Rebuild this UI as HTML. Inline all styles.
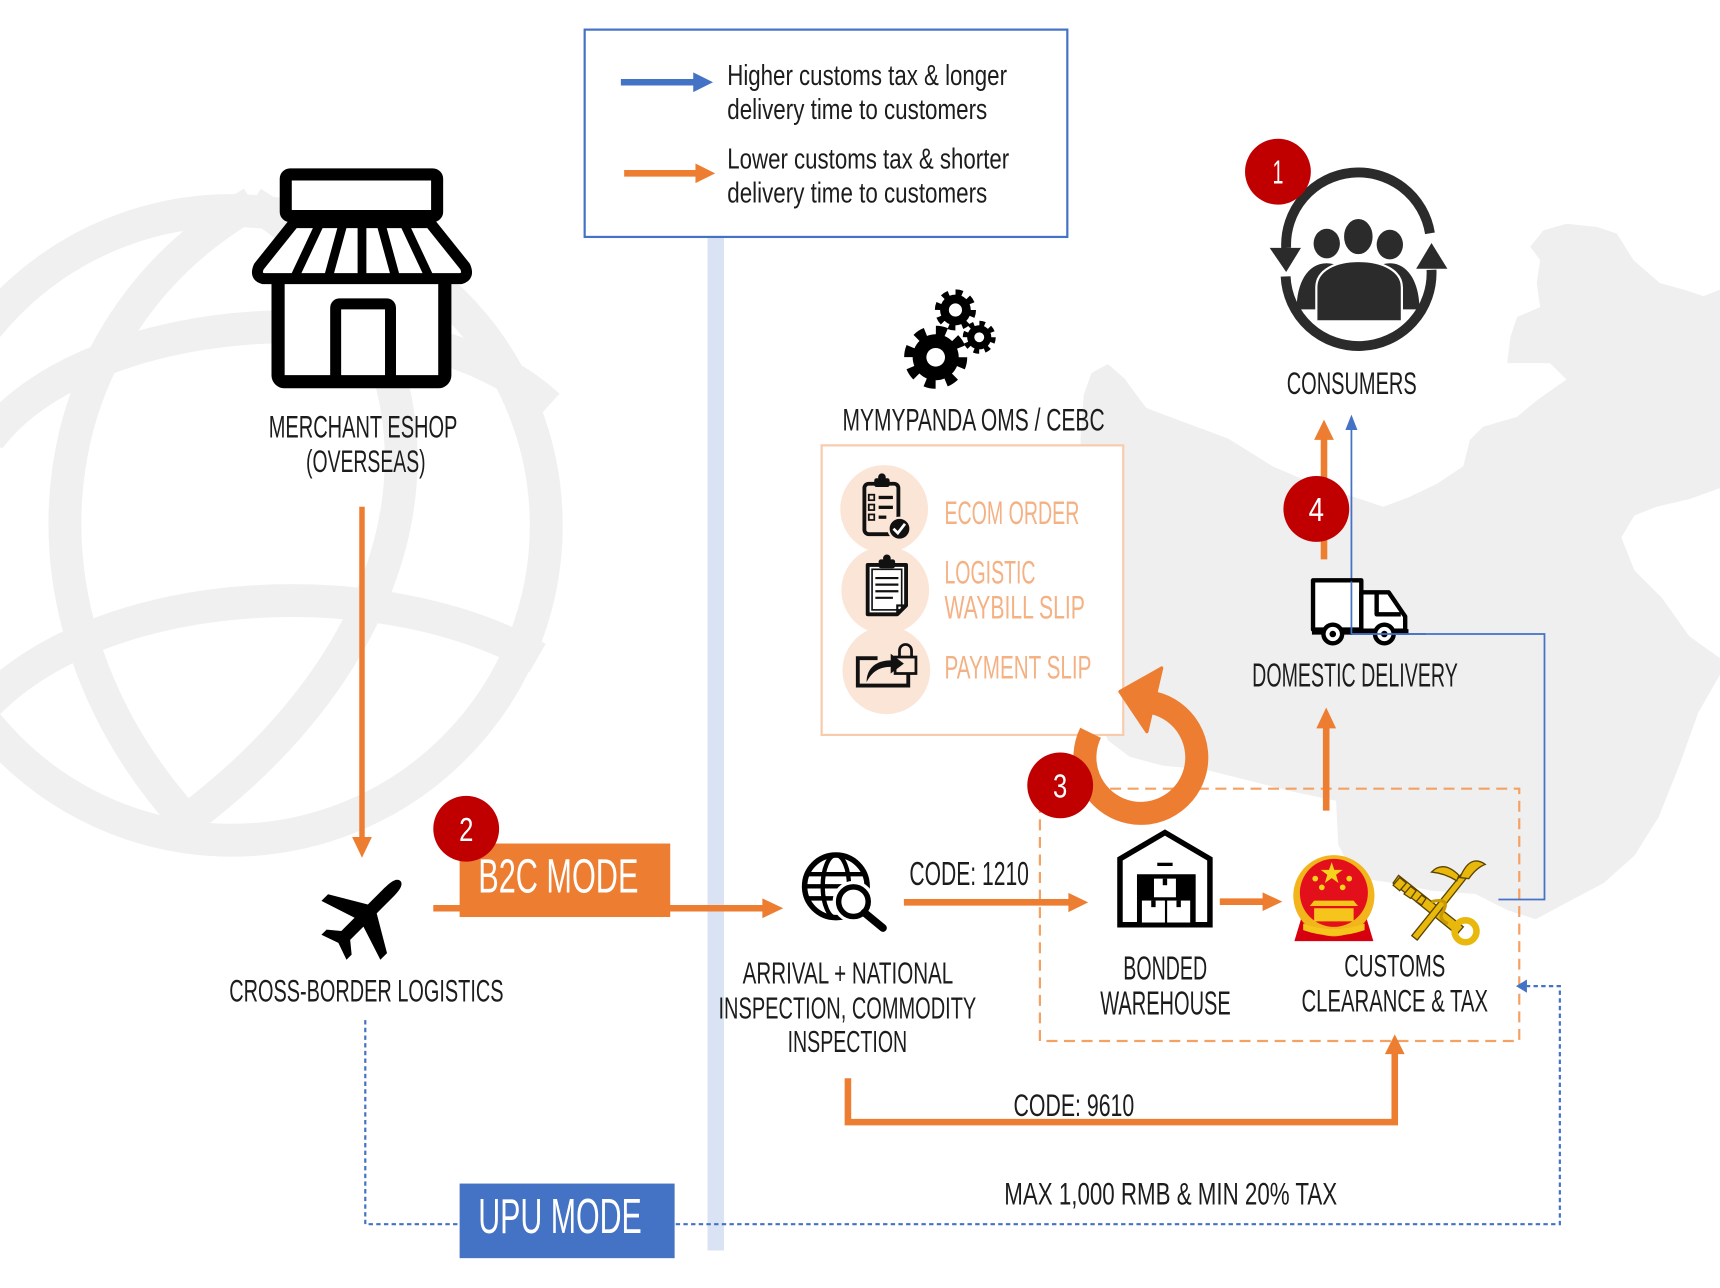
<!DOCTYPE html>
<html><head><meta charset="utf-8"><style>
html,body{margin:0;padding:0;background:#fff;width:1720px;height:1288px;overflow:hidden}
svg{display:block}
text{font-family:"Liberation Sans Narrow","Liberation Sans",sans-serif;fill:#1c1c1c}
.o{fill:#f4b183}
.w{fill:#fff}
</style></head><body>
<svg width="1720" height="1288" viewBox="0 0 1568 1174.2" preserveAspectRatio="none" xmlns="http://www.w3.org/2000/svg">
<rect width="1568" height="1175" fill="#fff"/>
<!-- globe watermark -->
<g fill="none" stroke="#f0f0f0" stroke-width="30">
<circle cx="211" cy="479" r="287"/>
<path d="M230,185 C30,300 0,560 170,748"/>
<path d="M230,185 C420,300 420,560 170,748"/>
<path d="M-10,400 C80,280 380,260 500,370"/>
<path d="M-10,640 C100,530 350,520 490,600"/>
</g>
<!-- China map watermark -->
<path fill="#efefef" d="M995,340 L1010,332 L1025,345 L1045,372 L1080,385 L1120,400 L1160,425 L1190,438 L1225,450 L1261,462 L1285,453 L1310,441 L1334,425 L1340,401 L1352,389 L1383,380 L1401,365 L1428,346 L1413,331 L1374,331 L1377,307 L1383,289 L1404,280 L1401,258 L1404,237 L1395,225 L1407,210 L1428,204 L1456,207 L1474,213 L1489,237 L1513,258 L1535,264 L1553,270 L1568,264 L1568,445 L1540,455 L1510,462 L1490,470 L1478,490 L1490,520 L1515,545 L1540,580 L1568,600 L1568,615 L1548,650 L1532,695 L1512,745 L1490,780 L1462,805 L1430,822 L1400,838 L1375,830 L1345,815 L1305,812 L1270,805 L1235,800 L1220,770 L1218,730 L1180,722 L1140,712 L1100,702 L1060,698 L1030,690 L1010,675 L995,640 L988,560 L988,470 L985,400 L988,360 Z"/>
<!-- vertical bar -->
<rect x="645" y="216" width="15" height="924" fill="#dae3f3"/>
<!-- legend -->
<rect x="533" y="27" width="440" height="189" fill="#fff" stroke="#4472c4" stroke-width="2"/>
<line x1="566" y1="75" x2="634" y2="75" stroke="#4472c4" stroke-width="6"/>
<polygon points="632,66 650,75 632,84" fill="#4472c4"/>
<line x1="569" y1="158" x2="636" y2="158" stroke="#ed7d31" stroke-width="6"/>
<polygon points="634,149 652,158 634,167" fill="#ed7d31"/>
<text x="663" y="77.5" font-size="26.5" textLength="255" lengthAdjust="spacingAndGlyphs">Higher customs tax &amp; longer</text>
<text x="663" y="108.5" font-size="26.5" textLength="237" lengthAdjust="spacingAndGlyphs">delivery time to customers</text>
<text x="663" y="153.5" font-size="26.5" textLength="257" lengthAdjust="spacingAndGlyphs">Lower customs tax &amp; shorter</text>
<text x="663" y="184.6" font-size="26.5" textLength="237" lengthAdjust="spacingAndGlyphs">delivery time to customers</text>
<!-- OMS box -->
<rect x="749" y="406" width="275" height="264" fill="#fff" stroke="#f8cbad" stroke-width="2"/>
<circle cx="806" cy="464" r="40" fill="#fbe5d6"/>
<circle cx="807" cy="538" r="40" fill="#fbe5d6"/>
<circle cx="808" cy="611" r="40" fill="#fbe5d6"/>
<!-- clipboard 1 -->
<g fill="none" stroke="#111" stroke-width="3.5">
<rect x="788" y="441" width="31" height="46" rx="4"/>
</g>
<rect x="797" y="436" width="14" height="8" rx="2" fill="#111"/>
<circle cx="804" cy="435" r="3.5" fill="#111"/>
<g stroke="#111" stroke-width="1.6" fill="none"><rect x="792" y="451" width="5" height="5"/><rect x="792" y="460" width="5" height="5"/><rect x="792" y="469" width="5" height="5"/></g>
<g stroke="#111" stroke-width="3"><line x1="801" y1="453.5" x2="814" y2="453.5"/><line x1="801" y1="462.5" x2="814" y2="462.5"/><line x1="801" y1="471.5" x2="808" y2="471.5"/></g>
<circle cx="820" cy="482" r="10" fill="#111" stroke="#fbe5d6" stroke-width="2"/>
<path d="M814.5,482 L818.5,486 L825,477.5" fill="none" stroke="#fff" stroke-width="2.5"/>
<!-- clipboard 2 -->
<path d="M791,515 L826,515 L826,552 L818,560 L791,560 Z" fill="#fff" stroke="#111" stroke-width="3.5" stroke-linejoin="round"/>
<rect x="795" y="519" width="27" height="37" fill="none" stroke="#111" stroke-width="1.5"/>
<rect x="801" y="510" width="15" height="8" rx="2" fill="#111"/>
<circle cx="808.5" cy="509" r="3.5" fill="#111"/>
<g stroke="#111" stroke-width="2"><line x1="798" y1="527" x2="819" y2="527"/><line x1="798" y1="533" x2="819" y2="533"/><line x1="798" y1="539" x2="819" y2="539"/><line x1="798" y1="545" x2="814" y2="545"/></g>
<path d="M818,560 L818,552 L826,552" fill="none" stroke="#111" stroke-width="2"/>
<!-- payment -->
<path d="M800,600 L782,600 L782,625 L828,625 L828,614" fill="none" stroke="#111" stroke-width="3.5"/>
<rect x="816" y="599" width="19" height="15" fill="#fbe5d6" stroke="#111" stroke-width="2.5"/>
<path d="M820,599 L820,593 A5.5,5.5 0 0 1 831,593 L831,599" fill="none" stroke="#111" stroke-width="2.5"/>
<path d="M790,622 C790,608 800,602 812,602 L812,596 L824,605 L812,614 L812,608 C802,608 795,612 790,622 Z" fill="#111"/>
<!-- dashed box -->
<rect x="948" y="719" width="437" height="230" fill="none" stroke="#f4a264" stroke-width="2" stroke-dasharray="10 6"/>
<!-- blue dashed UPU path -->
<path d="M333,930 L333,1116 L1422,1116 L1422,899 L1392,899" fill="none" stroke="#4472c4" stroke-width="2" stroke-dasharray="4 3"/>
<polygon points="1392,893 1392,905 1382,899" fill="#4472c4"/>
<!-- blue thin path -->
<path d="M1366,820 L1408,820 L1408,578 L1232,578 L1232,390" fill="none" stroke="#4472c4" stroke-width="1.6"/>
<polygon points="1226.5,392 1237.5,392 1232,378" fill="#4472c4"/>
<!-- orange arrows -->
<g stroke="#ed7d31" fill="none">
<line x1="330" y1="462" x2="330" y2="766" stroke-width="5"/>
<line x1="395" y1="828" x2="698" y2="828" stroke-width="6"/>
<line x1="824" y1="822.6" x2="976" y2="822.6" stroke-width="6"/>
<line x1="1112" y1="822" x2="1153" y2="822" stroke-width="6"/>
<path d="M773,983 L773,1023 L1271.5,1023 L1271.5,960" stroke-width="6"/>
<line x1="1209" y1="739" x2="1209" y2="662" stroke-width="6"/>
<line x1="1207" y1="510" x2="1207" y2="399" stroke-width="6"/>
</g>
<g fill="#ed7d31">
<polygon points="321,763 339,763 330,782"/>
<polygon points="695,819 714,828 695,837"/>
<polygon points="974,814 992,822.6 974,831.5"/>
<polygon points="1151,813.5 1169,822 1151,830.5"/>
<polygon points="1262.5,961 1280.5,961 1271.5,943"/>
<polygon points="1200,664 1218,664 1209,645"/>
<polygon points="1198,401 1216,401 1207,382.6"/>
</g>
<!-- circular arrow -->
<path d="M994.2,668.1 A51,51 0 1 0 1051.5,640.8" fill="none" stroke="#ed7d31" stroke-width="21"/>
<polygon points="1059,609 1045.5,667 1021,630.5" fill="#ed7d31" stroke="#ed7d31" stroke-width="3" stroke-linejoin="round"/>
<!-- store icon -->
<g fill="#fff" stroke="#000" stroke-linejoin="round">
<rect x="260.5" y="159" width="138" height="38" rx="4" stroke-width="11"/>
<rect x="253.5" y="252" width="152" height="96" rx="6" stroke-width="12"/>
<path d="M268,203 L392,203 L424,243 Q428,252 420,254 L240,254 Q232,252 236,243 Z" stroke-width="10"/>
</g>
<g stroke="#000" stroke-width="8">
<line x1="292" y1="203" x2="268" y2="254"/><line x1="313" y1="203" x2="299" y2="254"/><line x1="330" y1="203" x2="330" y2="254"/><line x1="347" y1="203" x2="361" y2="254"/><line x1="368" y1="203" x2="392" y2="254"/>
</g>
<path d="M306,348 L306,281 Q306,277 310,277 L352,277 Q356,277 356,281 L356,348" fill="none" stroke="#000" stroke-width="10"/>
<!-- plane -->
<path transform="translate(334,834) rotate(45) scale(0.95)" fill="#000" d="M0,-46 C5,-46 6,-38 6,-30 L6,-8 L40,12 L40,21 L6,10 L6,28 L17,37 L17,44 L0,38 L-17,44 L-17,37 L-6,28 L-6,10 L-40,21 L-40,12 L-6,-8 L-6,-30 C-6,-38 -5,-46 0,-46 Z"/>
<!-- search globe -->
<g fill="none" stroke="#000" stroke-width="5">
<circle cx="762" cy="808" r="28.5" fill="#fff"/>
<ellipse cx="762" cy="808" rx="12" ry="28.5" stroke-width="4"/>
<line x1="736" y1="797" x2="788" y2="797" stroke-width="4"/>
<line x1="736" y1="819" x2="788" y2="819" stroke-width="4"/>
<line x1="734" y1="808" x2="790" y2="808" stroke-width="4"/>
</g>
<circle cx="778" cy="822" r="19" fill="#fff"/>
<circle cx="778" cy="822" r="13.5" fill="#fff" stroke="#000" stroke-width="5"/>
<line x1="788" y1="832" x2="805" y2="846" stroke="#000" stroke-width="7" stroke-linecap="round"/>
<!-- warehouse -->
<path d="M1021,843 L1021,783 L1062,759 L1103,783 L1103,843 Z" fill="#fff" stroke="#000" stroke-width="5"/>
<rect x="1036.5" y="797" width="53.5" height="48" fill="#000"/>
<line x1="1055" y1="788" x2="1069" y2="788" stroke="#000" stroke-width="3"/>
<g fill="#fff"><rect x="1052" y="801" width="20" height="17"/><rect x="1041" y="821" width="21" height="20"/><rect x="1064" y="821" width="21" height="20"/></g>
<g fill="#000"><rect x="1060" y="801" width="4" height="6"/><rect x="1049.5" y="821" width="4" height="6"/><rect x="1072.5" y="821" width="4" height="6"/></g>
<!-- national emblem -->
<path d="M1186,838 L1180,858 L1252,858 L1246,838 Z" fill="#d7000f"/>
<circle cx="1216" cy="816.6" r="37" fill="#f2b51c"/>
<circle cx="1216" cy="814" r="31" fill="#e3101b"/>
<polygon points="1214,786 1216.4,793 1224,793 1218,797.5 1220.2,805 1214,800.5 1207.8,805 1210,797.5 1204,793 1211.6,793" fill="#f5d31c"/>
<g fill="#f5d31c"><circle cx="1199" cy="801" r="2.6"/><circle cx="1205" cy="809" r="2.6"/><circle cx="1224" cy="809" r="2.6"/><circle cx="1230" cy="801" r="2.6"/></g>
<path d="M1194,826 L1238,826 L1234,821 L1198,821 Z M1198,828 L1234,828 L1234,840 L1198,840 Z" fill="#f5c51c"/>
<path d="M1188,842 Q1216,852 1244,842 L1244,848 Q1216,858 1188,848 Z" fill="#f5c51c"/>
<!-- customs emblem -->
<g stroke="#5a4300" stroke-width="1.2" fill="#e8b90c">
<path d="M1275,798 L1334,845 L1328,852 L1270,805 Z"/>
<path d="M1276,800 L1270,807 L1276,812 L1282,805 Z M1286,808 L1280,815 L1286,819 L1291,812 Z M1296,816 L1291,822 L1296,825 L1300,819 Z"/>
<circle cx="1336" cy="849" r="10" fill="none" stroke="#e8b90c" stroke-width="6"/>
<path d="M1287,853 L1333,796 L1338,799 L1292,857 Z"/>
<path d="M1331,800 Q1340,778 1354,788 Q1346,791 1339,801 Z"/>
<path d="M1330,798 Q1316,784 1305,795 Q1317,796 1328,803 Z"/>
<path d="M1305,822 Q1322,818 1316,830 Q1310,838 1320,842" fill="none" stroke="#c89a00" stroke-width="3"/>
</g>
<!-- truck -->
<g fill="#fff" stroke="#000" stroke-width="4" stroke-linejoin="round">
<rect x="1197" y="529" width="44" height="45"/>
<path d="M1241,540 L1266,540 L1281,562 L1281,575 L1241,575 Z"/>
<path d="M1255,540 L1255,560 L1277,560" fill="none"/>
</g>
<line x1="1196" y1="576" x2="1284" y2="576" stroke="#000" stroke-width="5"/>
<g fill="#fff" stroke="#000" stroke-width="4"><circle cx="1215" cy="578" r="8.5"/><circle cx="1262" cy="578" r="8.5"/></g>
<g fill="#000"><circle cx="1215" cy="578" r="3"/><circle cx="1262" cy="578" r="3"/></g>
<line x1="1232" y1="530" x2="1232" y2="578" stroke="#4472c4" stroke-width="1.6"/>
<line x1="1232" y1="578" x2="1300" y2="578" stroke="#4472c4" stroke-width="1.6"/>
<!-- gears -->
<g fill="#000">
<circle cx="853" cy="325.7" r="21"/><circle cx="871" cy="282.6" r="14"/><circle cx="892.7" cy="307.5" r="11"/>
</g>
<g fill="none" stroke="#000">
<circle cx="853" cy="325.7" r="24.5" stroke-width="8.5" stroke-dasharray="9.62 9.62"/>
<circle cx="871" cy="282.6" r="16" stroke-width="5.5" stroke-dasharray="6.28 6.28"/>
<circle cx="892.7" cy="307.5" r="12.8" stroke-width="4.5" stroke-dasharray="5.03 5.03"/>
</g>
<g fill="#fff"><circle cx="853" cy="325.7" r="8.5"/><circle cx="871" cy="282.6" r="6"/><circle cx="892.7" cy="307.5" r="4.5"/></g>
<!-- consumers -->
<g fill="none" stroke="#2b2b2b" stroke-width="9">
<path d="M1303.6,212.7 A66,66 0 0 0 1172.5,226"/>
<path d="M1172,252 A66,66 0 0 0 1305,246"/>
</g>
<g fill="#2b2b2b">
<polygon points="1157.5,226 1186,226 1172.5,248"/>
<polygon points="1291,245 1319.5,245 1305,221.5"/>
<ellipse cx="1209.5" cy="222" rx="12" ry="13.5"/><ellipse cx="1267" cy="223" rx="12" ry="13.5"/>
<path d="M1182,282 C1182,258 1192,240 1209.5,240 C1226,240 1234,256 1236,282 Z"/>
<path d="M1241,282 C1243,256 1251,240 1267,240 C1284,240 1294,258 1294,282 Z"/>
<ellipse cx="1238.3" cy="215.7" rx="14" ry="17" stroke="#fff" stroke-width="2"/>
<path d="M1200,293 L1200,262 C1200,246 1218,238 1238.5,238 C1259,238 1278,246 1278,262 L1278,293 Z" stroke="#fff" stroke-width="2"/>
</g>
<!-- mode boxes -->
<rect x="419" y="769" width="192" height="67" fill="#ed7d31"/>
<rect x="419" y="1079" width="196" height="68" fill="#4472c4"/>
<text class="w" x="436" y="813.5" font-size="44" textLength="146" lengthAdjust="spacingAndGlyphs">B2C MODE</text>
<text class="w" x="436" y="1124" font-size="44.5" textLength="149" lengthAdjust="spacingAndGlyphs">UPU MODE</text>
<!-- number circles -->
<g fill="#c00000"><circle cx="1165" cy="156.5" r="30"/><circle cx="425" cy="755.5" r="30"/><circle cx="966.5" cy="716" r="30"/><circle cx="1200" cy="464" r="30"/></g>
<g font-size="30" text-anchor="middle">
<text class="w" x="1165" y="167.5" textLength="10" lengthAdjust="spacingAndGlyphs">1</text>
<text class="w" x="425" y="766.5" textLength="13" lengthAdjust="spacingAndGlyphs">2</text>
<text class="w" x="966.5" y="727" textLength="13" lengthAdjust="spacingAndGlyphs">3</text>
<text class="w" x="1200" y="475" textLength="14" lengthAdjust="spacingAndGlyphs">4</text>
</g>
<!-- labels -->
<text x="245" y="399" font-size="28.5" textLength="172" lengthAdjust="spacingAndGlyphs">MERCHANT ESHOP</text>
<text x="279" y="430.5" font-size="28.5" textLength="109" lengthAdjust="spacingAndGlyphs">(OVERSEAS)</text>
<text x="209" y="913" font-size="29" textLength="250" lengthAdjust="spacingAndGlyphs">CROSS-BORDER LOGISTICS</text>
<text x="829" y="807" font-size="30" textLength="109" lengthAdjust="spacingAndGlyphs">CODE: 1210</text>
<text x="677" y="896.5" font-size="28" textLength="192" lengthAdjust="spacingAndGlyphs">ARRIVAL + NATIONAL</text>
<text x="655" y="928.4" font-size="28" textLength="235" lengthAdjust="spacingAndGlyphs">INSPECTION, COMMODITY</text>
<text x="718" y="959" font-size="28" textLength="109" lengthAdjust="spacingAndGlyphs">INSPECTION</text>
<text x="924" y="1017.5" font-size="28.5" textLength="110" lengthAdjust="spacingAndGlyphs">CODE: 9610</text>
<text x="915.5" y="1098" font-size="28.5" textLength="303.5" lengthAdjust="spacingAndGlyphs">MAX 1,000 RMB &amp; MIN 20% TAX</text>
<text x="1024" y="893" font-size="30" textLength="76.5" lengthAdjust="spacingAndGlyphs">BONDED</text>
<text x="1003" y="925" font-size="30" textLength="119" lengthAdjust="spacingAndGlyphs">WAREHOUSE</text>
<text x="1225.5" y="890" font-size="28.5" textLength="92" lengthAdjust="spacingAndGlyphs">CUSTOMS</text>
<text x="1186.5" y="922" font-size="28.5" textLength="170" lengthAdjust="spacingAndGlyphs">CLEARANCE &amp; TAX</text>
<text x="1141.5" y="626" font-size="30" textLength="187.5" lengthAdjust="spacingAndGlyphs">DOMESTIC DELIVERY</text>
<text x="1173" y="359.4" font-size="29" textLength="118.5" lengthAdjust="spacingAndGlyphs">CONSUMERS</text>
<text x="768" y="392.6" font-size="29" textLength="239" lengthAdjust="spacingAndGlyphs">MYMYPANDA OMS / CEBC</text>
<text class="o" x="861" y="477.7" font-size="29.5" textLength="123" lengthAdjust="spacingAndGlyphs">ECOM ORDER</text>
<text class="o" x="861" y="531.8" font-size="29.5" textLength="83" lengthAdjust="spacingAndGlyphs">LOGISTIC</text>
<text class="o" x="861" y="563.7" font-size="29.5" textLength="128" lengthAdjust="spacingAndGlyphs">WAYBILL SLIP</text>
<text class="o" x="861" y="618.4" font-size="29.5" textLength="134" lengthAdjust="spacingAndGlyphs">PAYMENT SLIP</text>
</svg>
</body></html>
